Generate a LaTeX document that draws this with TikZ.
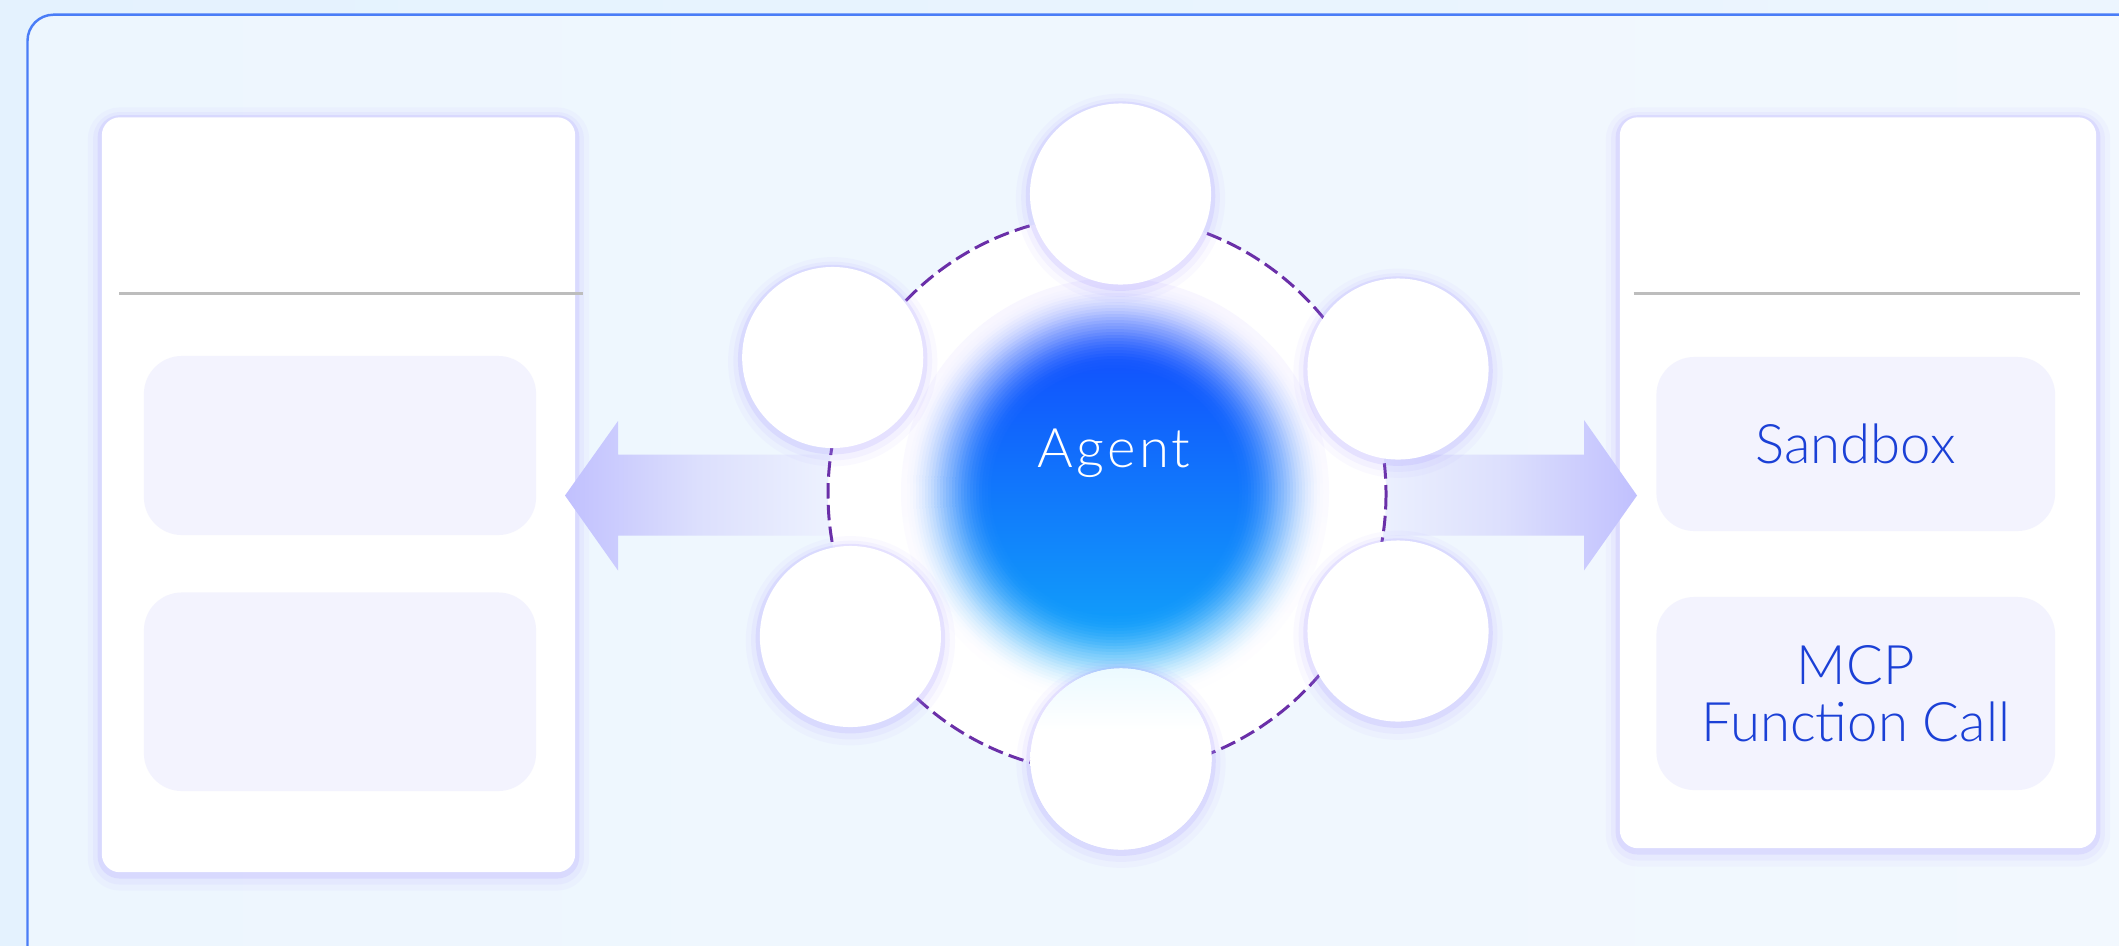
\documentclass[tikz,border=0pt]{standalone}
\usepackage{fontspec}
\IfFontExistsTF{Lato Light}{\setmainfont{Lato Light}}{\setmainfont{Poppins Light}}
\usepackage{tikz}
\usetikzlibrary{positioning, calc}

\definecolor{bgleft}{HTML}{E4F2FE}
\definecolor{bgright}{HTML}{ECF5FE}
\definecolor{framein}{HTML}{EDF6FE}
\definecolor{frameout}{HTML}{F2F8FE}
\definecolor{framecol}{HTML}{4A7DF7}
\definecolor{glowcol}{HTML}{A393FF}
\definecolor{boxfill}{HTML}{F3F3FE}
\definecolor{rulegray}{HTML}{BDBDBD}
\definecolor{textblue}{HTML}{1B40D6}
\definecolor{arrowtip}{HTML}{9A98FF}
\definecolor{arrowmid}{HTML}{BDBCFE}
\definecolor{arrowpale}{HTML}{DCDFFD}
\definecolor{arrowtail}{HTML}{F0F5FE}
\definecolor{ringcol}{HTML}{6A2FA8}
\definecolor{blobtop}{HTML}{1236FF}
\definecolor{blobmid}{HTML}{0A6EFF}
\definecolor{blobbot}{HTML}{10BAF8}
\definecolor{blobhalo}{HTML}{F7F5FF}
\definecolor{bubbletint}{HTML}{CFF2FE}

\pgfdeclarehorizontalshading{arrowshade}{100bp}{color(0bp)=(arrowtip); color(22bp)=(arrowmid); color(48bp)=(arrowpale); color(75bp)=(arrowtail); color(100bp)=(arrowtail)}
\pgfdeclareverticalshading{tintshade}{100bp}{color(0bp)=(white); color(58bp)=(white); color(100bp)=(bubbletint)}

\tikzset{
  glow/.style={preaction={draw=glowcol, line width=8pt, draw opacity=.05, transform canvas={yshift=-1.2pt}},
               preaction={draw=glowcol, line width=5pt, draw opacity=.08, transform canvas={yshift=-1pt}},
               preaction={draw=glowcol, line width=2.4pt, draw opacity=.17, transform canvas={yshift=-.6pt}}},
  panel/.style={rectangle, rounded corners=0.18cm, fill=white, inner sep=0pt, outer sep=0pt, glow},
  cardbox/.style={rectangle, rounded corners=0.38cm, fill=boxfill, inner sep=0pt, text=textblue, align=center, font=\fontsize{15.5}{16.2}\selectfont},
  bubble/.style={circle, fill=white, minimum size=1.81cm, inner sep=0pt, glow},
  divider/.style={draw=rulegray, line width=0.6pt},
}

\begin{document}
\begin{tikzpicture}[x=0.01cm, y=-0.01cm]
\useasboundingbox (0,0) rectangle (2119,945);
\clip (0,0) rectangle (2119,945);
% backdrop and frame
\shade[left color=bgleft, right color=bgright] (0,0) rectangle (2119,945);
\shadedraw[draw=framecol, line width=0.7pt, rounded corners=0.26cm, left color=framein, right color=frameout] (27.5,14.7) rectangle (2170,1000);

% side panels
\node[panel, minimum width=4.73cm, minimum height=7.545cm] (leftpanel) at (338.5,494.75) {};
\node[panel, minimum width=4.76cm, minimum height=7.305cm] (rightpanel) at (1858,482.75) {};
\draw[divider] (119,293.5) -- (582.6,293.5);
\draw[divider] (1633.5,293.5) -- (2080,293.5);
\node[cardbox, minimum width=3.92cm, minimum height=1.79cm] (leftcardtop) at (340,445.5) {};
\node[cardbox, minimum width=3.92cm, minimum height=1.985cm] (leftcardlow) at (340,691.75) {};
\node[cardbox, minimum width=3.985cm, minimum height=1.74cm] (sandbox) at (1855.75,444) {Sandbox};
\node[cardbox, minimum width=3.985cm, minimum height=1.93cm] (mcpcall) at (1855.75,693.5) {MCP\\Function Call};

% block arrows
\coordinate (lefttip) at (565,495.5);
\coordinate (righttip) at (1637,495.5);
\shade[shading=arrowshade, shift={(lefttip)}] (0,0) -- (53,-74.5) -- (53,-41) -- (290,-41) -- (290,40) -- (53,40) -- (53,75) -- cycle;
\shade[shading=arrowshade, shading angle=180, shift={(righttip)}, xscale=-1] (0,0) -- (53,-75.5) -- (53,-41) -- (290,-41) -- (290,40) -- (53,40) -- (53,75) -- cycle;

% agent ring
\coordinate (ringc) at (1107,494);
\coordinate (blobc) at (1115,492);
\fill[white] (ringc) circle (279);
\draw[ringcol, line width=0.85pt, dash pattern=on 4.4pt off 1.8pt] (ringc) circle (279);
\foreach \r in {214,211,...,124} {
  \pgfmathsetmacro\t{(214-\r)/90}
  \pgfmathtruncatemacro\p{100*\t*\t*(3-2*\t)}
  \begin{scope}
    \clip (blobc) circle (\r);
    \shade[top color=blobtop!\p!blobhalo, middle color=blobmid!\p!white, bottom color=blobbot!\p!white] (895,252) rectangle (1335,732);
  \end{scope}
}
\foreach \name/\px/\py in {btop/1120.5/194, bul/832.7/357.5, bur/1398/369, bll/850.4/636.5, blr/1398/631}
  \node[bubble] (\name) at (\px,\py) {};
\node[bubble, shading=tintshade] (bbot) at (1121,759) {};
\node[anchor=base, text=white, font=\fontsize{15.5}{16.2}\selectfont\addfontfeature{LetterSpace=6}, inner sep=0pt] (agent) at (1114,467.3) {Agent};
\end{tikzpicture}
\end{document}
